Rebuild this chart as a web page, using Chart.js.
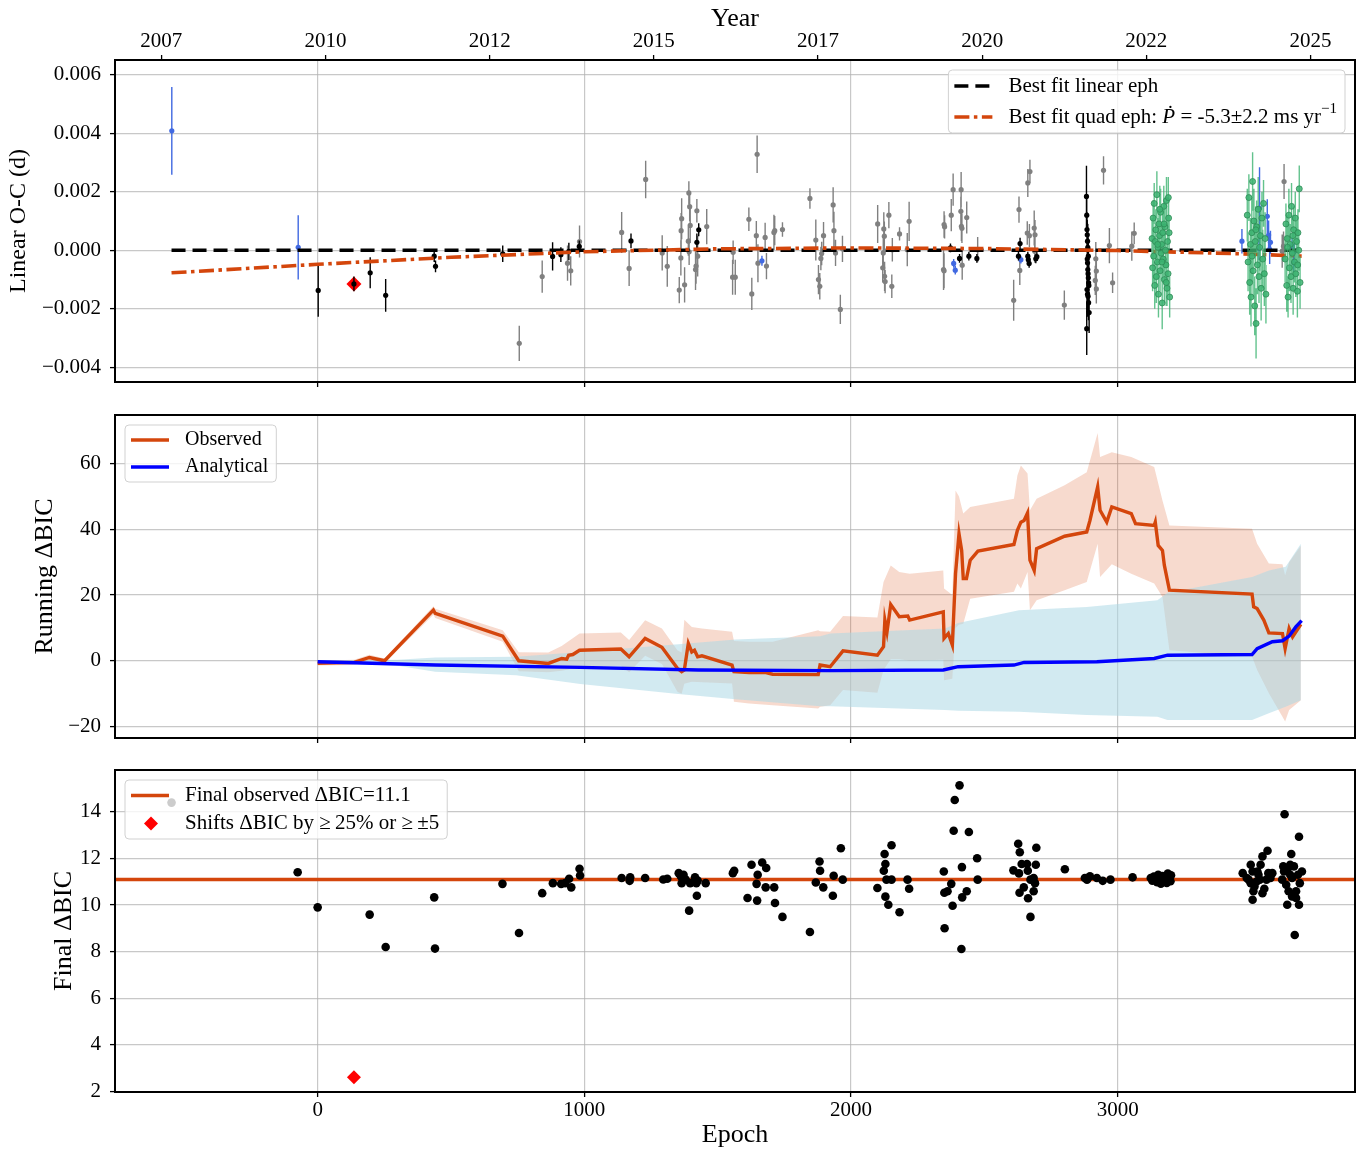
<!DOCTYPE html>
<html>
<head>
<meta charset="utf-8">
<title>Linear O-C and running BIC</title>
<script src="https://cdn.jsdelivr.net/npm/chart.js@4.4.1/dist/chart.umd.min.js"></script>
<style>
  html, body { margin: 0; padding: 0; background: #fff; }
  #page { position: relative; width: 1358px; height: 1151px; overflow: hidden; }
  #page canvas { position: absolute; left: 0; }
</style>
</head>
<body>
<div id="page">
  <canvas id="ocChart" width="1358" height="398" style="top:0px"></canvas>
  <canvas id="runChart" width="1358" height="360" style="top:398px"></canvas>
  <canvas id="finalChart" width="1358" height="393" style="top:758px"></canvas>
</div>
<script>
// ---- axes ----
const epochMin = -760, epochMax = 3890;
const epochTicks = [0, 1000, 2000, 3000];
const yearTickEpochs = [-587, 29, 645, 1260, 1876, 2492, 3107, 3723];
const yearTickLabels = ['2007', '2010', '2012', '2015', '2017', '2020', '2022', '2025'];
const ocTicks = [-0.004, -0.002, 0, 0.002, 0.004, 0.006];
const runTicks = [-20, 0, 20, 40, 60];
const finalTicks = [2, 4, 6, 8, 10, 12, 14];

// ---- O-C data (days) ----
const blueEpoch = [-547, -73, 1666, 2385, 2391, 2637, 3466, 3530, 3532, 3561, 3566, 3570, 3573, 3654, 3660, 3663];
const blueOC = [0.00408, 0.0001, -0.00036, -0.00045, -0.00068, -0.00032, 0.00031, 0.00006, 0.00144, 0.00116, 0.00052, 0.00003, 0.00027, 0.00014, -0.00043, -0.00003];
const blueErr = [0.0015, 0.0011, 0.00017, 0.00015, 0.00015, 0.00013, 0.00042, 0.0004, 0.0014, 0.00058, 0.0005, 0.0005, 0.0004, 0.0003, 0.0003, 0.0003];

const blackEpoch = [2, 136, 197, 255, 437, 442, 694, 881, 912, 942,
  981, 1175, 1422, 1429, 2373, 2407, 2442, 2472, 2628, 2634,
  2663, 2665, 2668, 2693, 2697,
  2883, 2884, 2885, 2886, 2887, 2888, 2889, 2890, 2886, 2887,
  2888, 2889, 2890, 2891, 2892, 2885, 2887, 2889, 2891, 2893, 2884];
const blackOC = [-0.00137, -0.00115, -0.00077, -0.00154, -0.0002, -0.00055, -0.00012, -0.00021, -0.00015, -0.00004,
  0.00013, 0.00032, 0.00027, 0.0007, 0.00008, -0.00028, -0.0002, -0.00028, -0.0002, 0.00023,
  -0.0002, -0.00032, -0.00045, -0.00029, -0.00022,
  0.00184, 0.0012, 0.00071, 0.00053, 0.00031, 0.0001, 0.00002, -0.0002, -0.0003, -0.00043,
  -0.00066, -0.0008, -0.00094, -0.00111, -0.0012, -0.00134, -0.0015, -0.00157, -0.00179, -0.00213, -0.00268];
const blackErr = [0.0009, 0.00025, 0.00053, 0.00056, 0.0002, 0.0002, 0.00028, 0.00048, 0.00025, 0.0003,
  0.0002, 0.00025, 0.0003, 0.00022, 0.00015, 0.00015, 0.00015, 0.00015, 0.00015, 0.0002,
  0.00015, 0.00015, 0.00015, 0.00015, 0.00015,
  0.00105, 0.0007, 0.0006, 0.0005, 0.0006, 0.0008, 0.0005, 0.0006, 0.0007, 0.0005,
  0.0006, 0.0007, 0.0005, 0.0006, 0.0008, 0.0006, 0.0005, 0.0007, 0.0006, 0.0007, 0.0009];

const grayEpoch = [756, 842, 937, 949, 982, 1140, 1168, 1230, 1292, 1311,
  1356, 1376, 1365, 1363, 1362, 1392, 1395, 1397, 1390, 1393,
  1422, 1425, 1417, 1419, 1459, 1558, 1556, 1566, 1617, 1628,
  1645, 1648, 1651, 1678, 1683, 1711, 1714, 1743, 1846, 1868,
  1878, 1883, 1887, 1890, 1897, 1933, 1936, 1942, 1960, 1968,
  2100, 2123, 2125, 2121, 2119, 2126, 2128, 2142, 2153, 2155,
  2182, 2211, 2218, 2349, 2351, 2347, 2349, 2376, 2383, 2413,
  2412, 2414, 2416, 2417, 2434, 2475, 2610, 2630, 2633, 2663,
  2671, 2661, 2669, 2687, 2690, 2689, 2800, 2947, 2918, 2920,
  2916, 2920, 2969, 2981, 3053, 3062, 3624, 3617, 3622];
const grayOC = [-0.00318, -0.0009, -0.00044, -0.0007, 0.0003, 0.00061, -0.00062, 0.00242, -0.00009, -0.00055,
  -0.00136, -0.00118, 0.00108, 0.00067, -0.00026, 0.00196, 0.00149, 0.00085, 0.00031, -0.00005,
  0.00135, -0.0002, -0.00066, -0.00054, 0.00081, -0.00007, -0.00092, -0.00092, 0.00106, -0.00149,
  0.0005, 0.00328, -0.00044, 0.00044, -0.00054, 0.00061, 0.00067, 0.00071, 0.00177, 0.00035,
  -0.001, -0.00123, -0.00028, -0.00011, 0.0005, 0.00155, 0.00067, -0.00009, -0.00202, 0.00005,
  0.0009, 0.00073, 0.00048, -0.00009, -0.0006, -0.00089, -0.00107, 0.0012, -0.00123, 0.00002,
  0.00056, 0.00002, 0.00099, 0.00088, 0.0008, -0.00066, -0.0007, 0.0012, 0.00207, 0.00207,
  0.00133, 0.00082, 0.00075, -0.00051, 0.00112, 0.00002, -0.00171, 0.00139, -0.00069, 0.0023,
  0.00269, 0.00059, 0.0005, 0.00076, 0.00053, -0.00003, -0.00187, 0.00273, -0.00029, -0.00071,
  -0.00103, -0.00132, 0.00016, -0.00111, 0.00014, 0.00058, 0.00235, -0.00003, 0.00014];
const grayErr = [0.0006, 0.00055, 0.0006, 0.0005, 0.00055, 0.0007, 0.0006, 0.00064, 0.0006, 0.0007,
  0.00045, 0.0006, 0.0007, 0.0006, 0.0006, 0.0004, 0.0005, 0.0006, 0.0005, 0.00045,
  0.0004, 0.0007, 0.0007, 0.0006, 0.0006, 0.0004, 0.0006, 0.0006, 0.0004, 0.00055,
  0.0005, 0.00064, 0.00065, 0.0005, 0.00045, 0.0006, 0.0005, 0.00025, 0.00035, 0.0007,
  0.0005, 0.00045, 0.0004, 0.0004, 0.00047, 0.0006, 0.00065, 0.00045, 0.0005, 0.00045,
  0.00065, 0.00057, 0.0005, 0.0005, 0.0005, 0.0005, 0.0004, 0.00045, 0.0004, 0.0004,
  0.00023, 0.00057, 0.00067, 0.00045, 0.0004, 0.0007, 0.0006, 0.00055, 0.00055, 0.0006,
  0.0005, 0.0005, 0.0005, 0.0005, 0.00055, 0.00043, 0.0007, 0.00045, 0.0005, 0.00048,
  0.0004, 0.0004, 0.0004, 0.0006, 0.0005, 0.0004, 0.0005, 0.00048, 0.00057, 0.0005,
  0.0005, 0.0005, 0.0006, 0.00035, 0.0005, 0.00037, 0.0006, 0.00057, 0.0005];

const greenEpoch = [3129, 3131, 3133, 3135, 3137, 3139, 3141, 3143, 3145, 3147,
  3149, 3151, 3153, 3155, 3157, 3159, 3161, 3163, 3165, 3167,
  3169, 3171, 3173, 3175, 3177, 3179, 3181, 3183, 3185, 3187,
  3189, 3191, 3193, 3195, 3150, 3158, 3166, 3174, 3182, 3190,
  3486, 3489, 3492, 3495, 3498, 3500, 3503, 3506, 3508, 3511,
  3514, 3516, 3519, 3521, 3524, 3527, 3530, 3532, 3535, 3538,
  3541, 3544, 3547, 3550, 3553, 3556, 3504, 3518,
  3628, 3631, 3634, 3636, 3639, 3642, 3644, 3647, 3650, 3652,
  3655, 3658, 3660, 3663, 3666, 3668, 3671, 3674, 3676, 3679,
  3681, 3684, 3637, 3657, 3675];
const greenOC = [0.0004, -0.0006, 0.0011, -0.0002, 0.0016, -0.0012, 0.0003, 0.0007, -0.0009, 0.0019,
  -0.0004, 0.0001, -0.0015, 0.0009, 0.0005, -0.0007, 0.0013, -0.0001, 0.0002, -0.0018,
  0.0006, -0.0003, 0.0015, -0.001, 0.0008, 0.0, -0.0005, 0.0017, -0.0013, 0.0003,
  -0.0008, 0.0011, 0.0006, -0.0016, 0.0002, 0.0014, -0.0004, 0.0009, -0.0011, 0.0018,
  0.0012, -0.0004, 0.0018, -0.0011, 0.0002, -0.0016, 0.0006, 0.00235, -0.0007, 0.001,
  -0.0019, 0.0003, -0.0025, 0.0008, -0.0005, 0.0014, -0.0009, 0.0001, 0.0005, -0.0013,
  0.0011, -0.0003, 0.0016, -0.0008, 0.0004, -0.0015, -0.0002, 0.0007,
  -0.0003, 0.0009, -0.0012, 0.0004, -0.0016, 0.0012, -0.0006, 0.0002, -0.0009, 0.0015,
  -0.0001, -0.0013, 0.0007, -0.0004, 0.0011, -0.0008, 0.0003, -0.0014, 0.0006, 0.0,
  0.0021, -0.0011, 0.0001, 0.0005, -0.0005];
const greenErr = [0.0007, 0.0008, 0.0006, 0.0009, 0.0007, 0.0008, 0.0006, 0.0007, 0.0009, 0.0008,
  0.0006, 0.0007, 0.0008, 0.0006, 0.0009, 0.0007, 0.0008, 0.0006, 0.0007, 0.0009,
  0.0008, 0.0006, 0.0007, 0.0008, 0.0009, 0.0006, 0.0007, 0.0008, 0.0006, 0.0009,
  0.0007, 0.0008, 0.0006, 0.0007, 0.0009, 0.0008, 0.0006, 0.0007, 0.0008, 0.0007,
  0.0009, 0.001, 0.0008, 0.0011, 0.0009, 0.001, 0.0012, 0.001, 0.0009, 0.0011,
  0.001, 0.0008, 0.0012, 0.0009, 0.001, 0.0011, 0.0009, 0.0008, 0.001, 0.0011,
  0.0009, 0.001, 0.0008, 0.0011, 0.0009, 0.001, 0.0009, 0.0008,
  0.0008, 0.0007, 0.0009, 0.0008, 0.0007, 0.0009, 0.0008, 0.0007, 0.0009, 0.0008,
  0.0007, 0.0009, 0.0008, 0.0007, 0.0009, 0.0008, 0.0007, 0.0009, 0.0008, 0.0007,
  0.0008, 0.0009, 0.0008, 0.0007, 0.0008];

const flagEpoch = [136];
const flagOC = [-0.00115];
const flagBIC = [2.6];

// best fit ephemerides (O-C residual curves)
const linEpoch = [-548, 3690];
const linOC = [0, 0];
const quadEpoch = [-548, 0, 500, 1000, 1500, 2000, 2500, 3000, 3500, 3690];
const quadOC = [-0.00077, -0.00048, -0.00024, -0.00005, 0.00005, 0.00008, 0.00006, -0.00001, -0.00013, -0.0002];

// ---- running delta BIC ----
const obsEpoch = [0, 137, 194, 251, 434, 441, 694, 754, 865, 915,
  934, 941, 957, 982, 1137, 1168, 1228, 1291, 1349, 1365,
  1375, 1390, 1403, 1413, 1425, 1441, 1554, 1561, 1618, 1681,
  1706, 1877, 1884, 1922, 1970, 2099, 2122, 2127, 2135, 2149,
  2181, 2213, 2220, 2346, 2349, 2365, 2380, 2392, 2405, 2415,
  2421, 2433, 2447, 2476, 2611, 2624, 2637, 2649, 2662, 2671,
  2687, 2696, 2801, 2884, 2896, 2925, 2934, 2959, 2978, 3051,
  3067, 3137, 3141, 3152, 3168, 3175, 3194, 3504, 3510, 3523,
  3548, 3567, 3618, 3628, 3643, 3656, 3687];
const obsBIC = [-0.8, -0.5, 1.0, 0.0, 15.4, 14.4, 7.5, 0.0, -0.8, 0.7,
  0.5, 1.7, 1.9, 3.2, 3.6, 1.2, 6.8, 4.1, -2.3, -3.3,
  -2.8, 5.3, 2.7, 3.2, 1.2, 1.5, -1.3, -3.3, -3.6, -3.6,
  -4.1, -4.2, -1.3, -1.8, 3.0, 1.7, 4.3, 12.4, 8.8, 17.1,
  13.4, 13.6, 12.4, 14.9, 6.8, 8.3, 4.8, 26.5, 38.7, 33.6,
  25.0, 25.0, 30.6, 33.4, 35.4, 39.7, 42.2, 42.7, 45.0, 30.6,
  27.5, 34.1, 37.9, 39.2, 42.7, 52.9, 45.8, 42.2, 46.8, 44.8,
  41.7, 41.2, 42.2, 35.1, 33.6, 29.1, 21.5, 20.3, 16.4, 15.9,
  12.4, 8.5, 8.3, 3.7, 9.8, 7.3, 11.1];

const obsBandEpoch = [0, 137, 194, 251, 434, 441, 694, 754, 865, 915,
  982, 1137, 1168, 1228, 1291, 1349, 1365, 1375, 1403, 1441,
  1554, 1561, 1618, 1706, 1877, 1884, 1922, 1970, 2099, 2122,
  2149, 2181, 2220, 2346, 2349, 2380, 2392, 2405, 2421, 2447,
  2611, 2624, 2637, 2662, 2671, 2696, 2801, 2884, 2925, 2934,
  2978, 3051, 3137, 3168, 3194, 3504, 3523, 3567, 3618, 3628,
  3643, 3687];
const obsUpper = [0, 0.3, 1.8, 0.7, 16.6, 15.8, 9.3, 2.6, 2.5, 4.5,
  8.3, 8.6, 6.3, 12.3, 9.8, 3.2, 2.5, 12.5, 10.3, 9.8,
  8.8, 6.0, 5.8, 5.8, 9.3, 9.0, 8.8, 13.6, 13.2, 24,
  29, 27, 26.5, 27.5, 22, 20, 51.8, 50, 44.8, 46.8,
  49.3, 56.4, 59.4, 57, 45.8, 49.3, 53.4, 57.4, 69.3, 62,
  63.5, 62, 59, 48.8, 41.2, 40.2, 35.6, 29.6, 29.4, 26,
  30, 35];
const obsLower = [-1.4, -1.3, 0.3, -0.7, 14, 13, 5.8, -3.2, -3.5, -3,
  -2, -1.5, -3.5, 1.5, -1, -9.4, -10, -7, -6.4, -6.5,
  -6.9, -12.5, -13, -13.5, -14.5, -14, -13.5, -8.9, -9.7, -2.8,
  0.5, 0.5, 0, 0.3, -5.9, -5.5, 10, 11, 11.3, 18.9,
  21, 23.5, 22, 27, 15.4, 18.4, 21.5, 24, 35.6, 25.5,
  29.4, 26.5, 23.5, 19.4, 3.2, 1.2, -2.8, -9.9, -17, -18.5,
  -15, -12];

const anaEpoch = [0, 441, 985, 1428, 1922, 2346, 2402, 2611, 2649, 2922, 3137, 3187, 3504, 3523, 3580, 3618, 3643, 3668, 3690];
const anaBIC = [-0.3, -1.3, -2.0, -2.8, -3.0, -2.8, -1.8, -1.3, -0.5, -0.3, 0.7, 1.7, 1.9, 3.7, 5.8, 6.1, 7.5, 10.3, 12.2];
const anaBandEpoch = [0, 300, 441, 744, 985, 1352, 1567, 1884, 1922, 2352, 2402, 2630, 2884, 3149, 3187, 3504, 3567, 3630, 3687];
const anaUpper = [0, 0.3, 1.0, 1.2, 2.7, 5.0, 6.5, 7.5, 8.3, 9.8, 11.5, 15.4, 16.4, 18.4, 20.7, 25.5, 27.5, 28.6, 35.6];
const anaLower = [-0.5, -1.5, -3.3, -4.4, -7.1, -10.1, -11.7, -13.8, -13.8, -15.0, -15.2, -15.5, -16.5, -17.0, -18.0, -18.0, -16.0, -14.0, -12.0];

// ---- final delta BIC with each point dropped ----
const finalBIC = 11.1;
const dropEpoch = [-548, -75, 0, 195, 255, 437, 440, 693, 755, 842,
  882, 913, 928, 943, 951, 982, 984, 1140, 1170, 1172,
  1228, 1296, 1311, 1354, 1362, 1365, 1372, 1380, 1393, 1397,
  1415, 1422, 1420, 1425, 1455, 1557, 1562, 1612, 1627, 1648,
  1650, 1646, 1667, 1682, 1680, 1712, 1715, 1743, 1846, 1868,
  1882, 1884, 1896, 1932, 1935, 1962, 1969, 2099, 2126, 2152,
  2129, 2123, 2129, 2140, 2133, 2152, 2182, 2212, 2218, 2348,
  2351, 2350, 2376, 2389, 2407, 2385, 2442, 2416, 2417, 2381,
  2414, 2434, 2362, 2473, 2475, 2627, 2633, 2695, 2609, 2640,
  2660, 2630, 2663, 2673, 2685, 2690, 2632, 2648, 2685, 2693,
  2664, 2673, 2802, 2877, 2885, 2896, 2922, 2944, 2973, 3056,
  3124, 3130, 3136, 3142, 3148, 3152, 3158, 3162, 3168, 3172,
  3178, 3184, 3188, 3194, 3198, 3200, 3469, 3484, 3491, 3499,
  3499, 3506, 3506, 3509, 3513, 3521, 3524, 3528, 3533, 3536,
  3543, 3543, 3550, 3558, 3562, 3565, 3573, 3580, 3617, 3621,
  3624, 3626, 3632, 3636, 3639, 3641, 3647, 3647, 3651, 3654,
  3654, 3661, 3664, 3669, 3669, 3676, 3680, 3680, 3683, 3691];
const dropBIC = [14.4, 11.41, 9.9, 9.59, 8.2, 10.33, 8.13, 10.91, 8.8, 10.51,
  10.94, 10.91, 10.94, 11.13, 10.76, 11.56, 11.27, 11.16, 11.04, 11.19,
  11.16, 11.1, 11.13, 11.37, 11.24, 10.94, 11.3, 11.1, 9.76, 10.94,
  11.19, 10.4, 10.94, 11.05, 10.94, 11.37, 11.47, 10.3, 11.73, 10.19,
  11.3, 10.91, 11.83, 11.59, 10.76, 10.76, 10.09, 9.49, 8.84, 10.97,
  11.87, 11.47, 10.76, 10.4, 11.26, 12.44, 11.09, 10.73, 12.19, 12.57,
  11.76, 11.47, 10.36, 10.01, 11.09, 11.09, 9.69, 11.09, 10.7, 11.44,
  9.0, 10.53, 10.91, 14.51, 15.14, 13.19, 13.14, 11.63, 10.33, 9.97,
  8.11, 10.59, 10.59, 12.01, 11.09, 12.63, 12.27, 12.46, 11.49, 11.76,
  11.76, 11.36, 11.47, 11.09, 11.16, 10.94, 10.53, 10.76, 10.59, 11.73,
  10.29, 9.49, 11.54, 11.16, 11.09, 11.23, 11.16, 11.04, 11.09, 11.19,
  11.16, 11.05, 11.22, 11.1, 10.98, 11.3, 11.14, 10.92, 11.25, 11.06,
  11.18, 10.95, 11.35, 11.12, 11.02, 11.28, 11.37, 11.16, 11.09, 11.73,
  10.94, 11.44, 10.23, 10.59, 10.8, 11.01, 11.44, 11.3, 11.09, 11.73,
  12.09, 10.51, 10.7, 11.09, 12.33, 11.37, 11.16, 11.37, 11.09, 11.66,
  11.44, 13.9, 10.87, 10.01, 11.59, 10.59, 11.73, 11.3, 12.19, 11.16,
  10.37, 11.66, 8.71, 10.3, 10.59, 11.3, 12.93, 10.01, 10.94, 11.44];

// ---- styling ----
const ORANGE = '#d4460c';
const SERIF = '"Liberation Serif", "Times New Roman", serif';
Chart.defaults.font.family = SERIF;
Chart.defaults.color = '#000';
Chart.defaults.animation = false;

function toPoints(xs, ys) {
  return xs.map((x, i) => ({x: x, y: ys[i]}));
}

// vertical error bars: one short segment per point, broken by gaps
function errorSegments(xs, ys, es) {
  const out = [];
  xs.forEach((x, i) => {
    out.push({x: x, y: ys[i] - es[i]}, {x: x, y: ys[i] + es[i]}, {x: x, y: null});
  });
  return out;
}

function errDataset(xs, ys, es, color, order) {
  return {type: 'line', xAxisID: 'x', data: errorSegments(xs, ys, es), borderColor: color, borderWidth: 1.4,
    pointRadius: 0, spanGaps: false, fill: false, order: order};
}

function dotDataset(xs, ys, color, radius, order, more) {
  return Object.assign({type: 'scatter', xAxisID: 'x', data: toPoints(xs, ys), pointRadius: radius,
    pointBackgroundColor: color, pointBorderWidth: 0, pointBorderColor: color, order: order}, more || {});
}

function lineDataset(label, xs, ys, color, width, order, more) {
  return Object.assign({type: 'line', xAxisID: 'x', label: label, data: toPoints(xs, ys), borderColor: color,
    borderWidth: width, pointRadius: 0, fill: false, tension: 0, order: order}, more || {});
}

function gridStyle() {
  return {color: 'rgba(176,176,176,0.7)', lineWidth: 1.2, tickColor: '#000', tickLength: 5, tickWidth: 1.3};
}

function fixedTicks(values) {
  return scale => { scale.ticks = values.map(v => ({value: v})); };
}

// fixed box sizes so the three plot areas line up exactly
function fitX(height) {
  return s => { s.height = height; s.paddingLeft = 0; s.paddingRight = 0; };
}
function fitY(s) {
  s.width = 115; s.paddingTop = 0; s.paddingBottom = 0;
}

function epochAxis(height, showLabels, title) {
  return {
    type: 'linear', position: 'bottom', min: epochMin, max: epochMax,
    afterBuildTicks: fixedTicks(epochTicks),
    afterFit: fitX(height),
    grid: gridStyle(), border: {display: false},
    ticks: {font: {size: 21}, padding: 1, maxRotation: 0, autoSkip: false,
      callback: v => showLabels ? String(v) : ''},
    title: title ? {display: true, text: title, font: {size: 26}, padding: {top: 0, bottom: 0}} : {display: false}
  };
}

function valueAxis(min, max, ticks, fmt, title, titleSize, titlePad) {
  return {
    type: 'linear', position: 'left', min: min, max: max,
    afterBuildTicks: fixedTicks(ticks),
    afterFit: fitY,
    grid: gridStyle(), border: {display: false},
    ticks: {font: {size: 21}, padding: 9, autoSkip: false, callback: fmt},
    title: {display: true, text: title, font: {size: titleSize}, padding: {top: titlePad, bottom: 0}}
  };
}

const minus = v => (v < 0 ? '\u2212' : '');

// black frame round each panel
const frame = {
  id: 'frame',
  afterDraw(chart) {
    const a = chart.chartArea, ctx = chart.ctx;
    ctx.save();
    ctx.strokeStyle = '#000';
    ctx.lineWidth = 2;
    ctx.strokeRect(a.left, a.top, a.right - a.left, a.bottom - a.top);
    ctx.restore();
  }
};

// legend text pieces: [text, style] where style is n (normal), i (italic) or sup
function partFont(style, size) {
  if (style === 'i') return 'italic ' + size + 'px ' + SERIF;
  if (style === 'sup') return Math.round(size * 0.7) + 'px ' + SERIF;
  return size + 'px ' + SERIF;
}
function partsWidth(ctx, parts, size) {
  let w = 0;
  parts.forEach(p => { ctx.font = partFont(p[1], size); w += ctx.measureText(p[0]).width; });
  return w;
}
function drawParts(ctx, parts, x, y, size) {
  parts.forEach(p => {
    ctx.font = partFont(p[1], size);
    ctx.fillText(p[0], x, p[1] === 'sup' ? y - 8 : y);
    x += ctx.measureText(p[0]).width;
  });
}

// framed legend drawn over the data, like matplotlib's
function boxLegend(spec) {
  return {
    id: 'boxLegend',
    afterDatasetsDraw(chart) {
      const ctx = chart.ctx, area = chart.chartArea;
      const sets = chart.data.datasets;
      ctx.save();
      const textW = Math.max.apply(null, spec.items.map(it => partsWidth(ctx, it.parts, spec.size)));
      const w = 60 + textW + 8;
      const h = spec.rowHeight * spec.items.length + 2 * spec.padY;
      const x = spec.side === 'right' ? area.right - 10 - w : area.left + 10;
      const y = area.top + 10;
      ctx.beginPath();
      ctx.roundRect(x, y, w, h, 4);
      ctx.fillStyle = 'rgba(255,255,255,0.8)';
      ctx.fill();
      ctx.strokeStyle = 'rgba(204,204,204,0.9)';
      ctx.lineWidth = 1;
      ctx.stroke();
      spec.items.forEach((it, i) => {
        const ds = sets.find(d => d.label === it.label);
        const cy = y + spec.padY + spec.rowHeight * (i + 0.5);
        if (it.kind === 'marker') {
          const r = ds.pointRadius, cx = x + 26;
          ctx.beginPath();
          ctx.moveTo(cx - r, cy); ctx.lineTo(cx, cy - r); ctx.lineTo(cx + r, cy); ctx.lineTo(cx, cy + r);
          ctx.closePath();
          ctx.fillStyle = ds.pointBackgroundColor;
          ctx.fill();
        } else {
          ctx.beginPath();
          ctx.setLineDash(ds.borderDash || []);
          ctx.lineWidth = ds.borderWidth;
          ctx.strokeStyle = ds.borderColor;
          ctx.moveTo(x + 6, cy);
          ctx.lineTo(x + 44, cy);
          ctx.stroke();
          ctx.setLineDash([]);
        }
        ctx.fillStyle = '#000';
        ctx.textBaseline = 'middle';
        ctx.textAlign = 'left';
        drawParts(ctx, it.parts, x + 60, cy, spec.size);
      });
      ctx.restore();
    }
  };
}

const baseOptions = {
  responsive: false,
  devicePixelRatio: 1,
  events: [],
  plugins: {legend: {display: false}, tooltip: {enabled: false}}
};

function panelLayout(top) {
  return {autoPadding: false, padding: {left: 0, right: 3, top: top, bottom: 0}};
}

// ---------- panel 1: linear O-C ----------
const LIN_LABEL = 'Best fit linear eph';
const QUAD_LABEL = 'Best fit quad eph';
new Chart(document.getElementById('ocChart'), {
  type: 'scatter',
  data: {
    datasets: [
      dotDataset(flagEpoch, flagOC, '#ff0000', 7.5, 30, {pointStyle: 'rectRot'}),
      errDataset(grayEpoch, grayOC, grayErr, '#808080', 29),
      dotDataset(grayEpoch, grayOC, '#808080', 2.6, 28),
      errDataset(blueEpoch, blueOC, blueErr, '#4169e1', 27),
      dotDataset(blueEpoch, blueOC, '#4169e1', 2.6, 26),
      errDataset(blackEpoch, blackOC, blackErr, '#000000', 25),
      dotDataset(blackEpoch, blackOC, '#000000', 2.6, 24),
      lineDataset(LIN_LABEL, linEpoch, linOC, '#000000', 3.6, 6, {borderDash: [14, 7]}),
      lineDataset(QUAD_LABEL, quadEpoch, quadOC, ORANGE, 3.6, 5, {borderDash: [15, 4.5, 3.5, 4.5]}),
      errDataset(greenEpoch, greenOC, greenErr, 'rgba(60,179,113,0.8)', 3),
      dotDataset(greenEpoch, greenOC, 'rgba(60,179,113,0.85)', 3, 2,
        {pointBorderWidth: 0.8, pointBorderColor: '#2e8b57'})
    ]
  },
  options: Object.assign({}, baseOptions, {
    layout: panelLayout(0),
    scales: {
      x: epochAxis(16, false, null),
      xTop: {
        type: 'linear', axis: 'x', position: 'top', min: epochMin, max: epochMax,
        afterBuildTicks: fixedTicks(yearTickEpochs),
        afterFit: fitX(60),
        grid: Object.assign(gridStyle(), {drawOnChartArea: false}), border: {display: false},
        ticks: {font: {size: 21}, padding: 1, maxRotation: 0, autoSkip: false,
          callback: (v, i) => yearTickLabels[i]},
        title: {display: true, text: 'Year', font: {size: 26}, padding: {top: 4, bottom: 0}}
      },
      y: valueAxis(-0.0045, 0.0065, ocTicks, v => minus(v) + Math.abs(v).toFixed(3), 'Linear O-C (d)', 24, 4)
    }
  }),
  plugins: [frame, boxLegend({
    side: 'right', rowHeight: 31, padY: 0.5, size: 21,
    items: [
      {label: LIN_LABEL, parts: [['Best fit linear eph', 'n']]},
      {label: QUAD_LABEL, parts: [['Best fit quad eph: ', 'n'], ['\u1E56', 'i'], [' = ', 'n'],
        ['-5.3\u00B12.2 ms yr', 'n'], ['\u22121', 'sup']]}
    ]
  })]
});

// ---------- panel 2: running delta BIC ----------
new Chart(document.getElementById('runChart'), {
  type: 'scatter',
  data: {
    datasets: [
      lineDataset('obs lower', obsBandEpoch, obsLower, 'rgba(0,0,0,0)', 1, 8),
      lineDataset('obs upper', obsBandEpoch, obsUpper, 'rgba(0,0,0,0)', 1, 7,
        {fill: '-1', backgroundColor: 'rgba(216,70,10,0.2)'}),
      lineDataset('ana lower', anaBandEpoch, anaLower, 'rgba(0,0,0,0)', 1, 6),
      lineDataset('ana upper', anaBandEpoch, anaUpper, 'rgba(0,0,0,0)', 1, 5,
        {fill: '-1', backgroundColor: 'rgba(173,216,230,0.55)'}),
      lineDataset('Observed', obsEpoch, obsBIC, ORANGE, 3.4, 2),
      lineDataset('Analytical', anaEpoch, anaBIC, '#0000ff', 3.4, 1)
    ]
  },
  options: Object.assign({}, baseOptions, {
    layout: panelLayout(17),
    scales: {
      x: epochAxis(20, false, null),
      y: valueAxis(-23.5, 74.8, runTicks, v => minus(v) + Math.abs(v), 'Running \u0394BIC', 26, 30)
    }
  }),
  plugins: [frame, boxLegend({
    side: 'left', rowHeight: 27, padY: 1.5, size: 20,
    items: [
      {label: 'Observed', parts: [['Observed', 'n']]},
      {label: 'Analytical', parts: [['Analytical', 'n']]}
    ]
  })]
});

// ---------- panel 3: final delta BIC ----------
const FINAL_LABEL = 'Final observed \u0394BIC=' + finalBIC.toFixed(1);
const FLAG_LABEL = 'Shifts \u0394BIC by \u2265\u200925% or \u2265\u2009\u00B15';
new Chart(document.getElementById('finalChart'), {
  type: 'scatter',
  data: {
    datasets: [
      lineDataset(FINAL_LABEL, [epochMin, epochMax], [finalBIC, finalBIC], ORANGE, 3.4, 3),
      dotDataset(dropEpoch, dropBIC, '#000000', 4.3, 2),
      dotDataset(flagEpoch, flagBIC, '#ff0000', 7, 1, {pointStyle: 'rectRot', label: FLAG_LABEL})
    ]
  },
  options: Object.assign({}, baseOptions, {
    layout: panelLayout(12),
    scales: {
      x: epochAxis(59, true, 'Epoch'),
      y: valueAxis(1.97, 15.8, finalTicks, v => String(v), 'Final \u0394BIC', 26, 49)
    }
  }),
  plugins: [frame, boxLegend({
    side: 'left', rowHeight: 28, padY: 1.5, size: 21,
    items: [
      {label: FINAL_LABEL, parts: [[FINAL_LABEL, 'n']]},
      {label: FLAG_LABEL, kind: 'marker', parts: [[FLAG_LABEL, 'n']]}
    ]
  })]
});
</script>
</body>
</html>
